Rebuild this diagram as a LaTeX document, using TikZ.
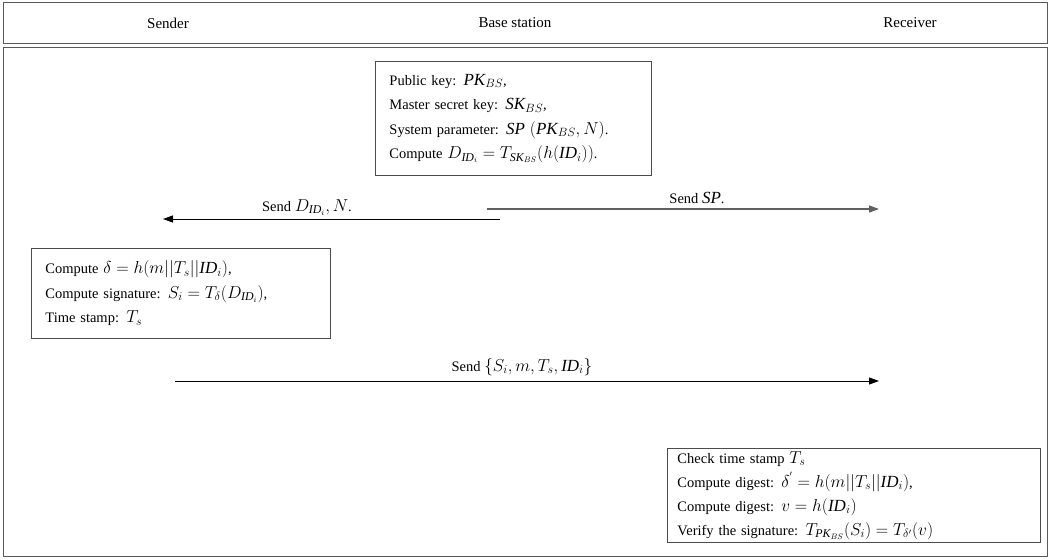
\documentclass[tikz,border=0pt]{standalone}
\usepackage{fontspec}
\setmainfont{Liberation Serif}
\usetikzlibrary{arrows.meta}
\newcommand\mth[1]{{\fontsize{17}{24.5}\selectfont$#1$}}
\tikzset{
  frame/.style={draw=gray!70!black, line width=0.9pt},
  msgbox/.style={draw=gray!60!black, line width=0.9pt, align=left, anchor=north west,
    inner ysep=5pt, font=\fontsize{14.5}{24.5}\selectfont},
  hdr/.style={font=\fontsize{15}{18}\selectfont},
  msg/.style={-{Triangle[length=10pt,width=7pt]}, line width=0.9pt},
  lbl/.style={font=\fontsize{14.5}{17}\selectfont, anchor=base},
}
\begin{document}
\begin{tikzpicture}[x=1pt,y=-1pt]
\useasboundingbox (0,0) rectangle (1048,559);
\draw[frame] (3,2) rectangle (1047,43);
\draw[frame] (3,47) rectangle (1047,556);
\node[hdr] (hs) at (168,23) {Sender};
\node[hdr] (hb) at (515,23) {Base station};
\node[hdr] (hr) at (910,23) {Receiver};

\node[msgbox, inner xsep=14pt, text width=248pt, minimum height=114pt] (bs) at (375,61) {%
Public key: \mth{\mathit{PK}_{BS}},\\
Master secret key: \mth{\mathit{SK}_{BS}},\\
System parameter: \mth{\mathit{SP}\ (\mathit{PK}_{BS}, N)}.\\
Compute \mth{D_{\mathit{ID}_i} = T_{\mathit{SK}_{BS}}(h(\mathit{ID}_i))}.};

\coordinate (a1s) at (500,219);
\coordinate (a1e) at (163,219);
\draw[msg] (a1s) -- (a1e);
\node[lbl] (l1) at (307,211) {Send \mth{D_{\mathit{ID}_i}, N}.};

\coordinate (a2s) at (487,209);
\coordinate (a2e) at (879,209);
\draw[msg, draw=gray!75!black, fill=gray!75!black, line width=1.3pt] (a2s) -- (a2e);
\node[lbl] (l2) at (697,203) {Send \mth{\mathit{SP}}.};

\node[msgbox, inner xsep=14pt, text width=271pt, minimum height=90pt] (sb) at (31,248) {%
Compute \mth{\delta = h\bigl(m||T_s||\mathit{ID}_i\bigr)},\\
Compute signature: \mth{S_i = T_\delta\bigl(D_{\mathit{ID}_i}\bigr)},\\
Time stamp: \mth{T_s}};

\coordinate (a3s) at (175,381);
\coordinate (a3e) at (879,381);
\draw[msg] (a3s) -- (a3e);
\node[lbl] (l3) at (522,371) {Send \mth{\{S_i, m, T_s, \mathit{ID}_i\}}};

\node[msgbox, inner xsep=10pt, text width=353pt, minimum height=92pt, inner ysep=3pt,
  font=\fontsize{14.5}{24}\selectfont] (rb) at (667,448) {%
Check time stamp \mth{T_s}\\
Compute digest: \mth{\delta^{'} = h\bigl(m||T_s||\mathit{ID}_i\bigr)},\\
Compute digest: \mth{v = h(\mathit{ID}_i)}\\
Verify the signature: \mth{T_{\mathit{PK}_{BS}}(S_i) = T_{\delta'}(v)}};
\end{tikzpicture}
\end{document}
